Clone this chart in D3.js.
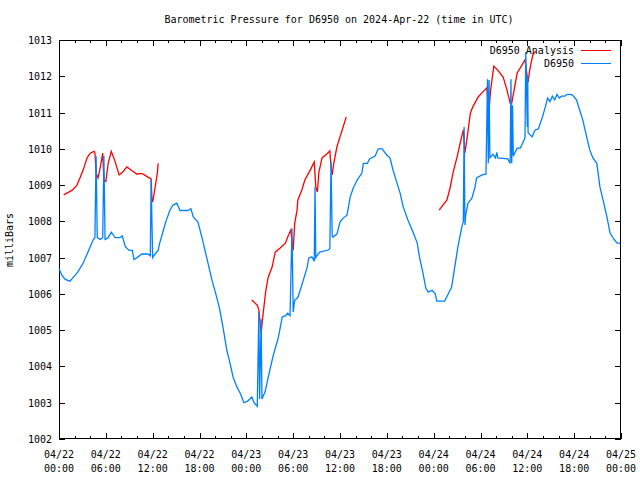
<!DOCTYPE html>
<html><head><meta charset="utf-8">
<script src="https://cdn.jsdelivr.net/npm/d3@7"></script>
<style>
body{margin:0;background:#fff;}
svg{display:block;}
text{font-family:"DejaVu Sans Mono","Liberation Mono",monospace;font-size:10px;fill:#000;}
</style></head>
<body>
<script>
// Hours since 2024-04-22 00:00 UTC
const obsHours = [0.0,0.4,0.8,1.4,1.8,2.4,3.1,3.6,4.0,4.4,4.6,4.75,4.9,5.3,5.6,5.75,5.9,6.3,6.7,7.2,7.8,8.1,8.5,9.0,9.4,9.6,10.0,10.6,11.4,11.7,11.8,12.0,12.3,12.7,12.9,13.3,13.7,14.2,14.6,15.1,15.5,16.5,16.9,17.2,17.8,18.3,19.0,19.6,20.2,20.6,21.0,21.5,21.9,22.3,22.8,23.2,23.7,24.2,24.7,25.0,25.4,25.6,25.7,25.9,26.0,26.4,26.8,27.4,28.1,28.6,29.0,29.3,29.6,29.85,30.0,30.2,30.6,30.9,31.3,31.8,32.0,32.4,32.7,32.8,32.9,33.1,33.4,34.5,34.7,34.85,35.0,35.1,35.6,36.0,36.4,36.9,37.3,37.7,38.2,38.8,39.0,39.5,39.8,40.5,40.9,41.4,42.0,42.4,42.8,43.3,43.7,44.1,44.7,45.4,45.9,46.2,46.6,47.0,47.3,47.8,48.2,48.4,49.4,49.8,50.3,50.7,51.1,51.6,51.8,51.9,52.0,52.1,52.4,52.9,53.3,53.5,54.2,54.7,54.9,55.0,55.1,55.2,55.6,55.9,56.1,56.2,57.5,57.8,57.9,58.0,58.1,58.2,58.7,59.1,59.7,59.8,60.0,60.05,60.1,60.6,61.0,61.4,61.9,62.3,62.6,62.9,63.2,63.5,63.8,64.1,64.4,64.8,65.1,65.5,65.8,66.3,66.7,67.1,67.6,68.0,68.4,68.9,69.3,69.7,70.2,70.6,71.0,71.5,71.9];
const obsValues = [1006.7,1006.5,1006.4,1006.35,1006.45,1006.6,1006.85,1007.1,1007.3,1007.5,1007.55,1009.8,1007.55,1007.5,1007.55,1009.8,1007.5,1007.55,1007.7,1007.55,1007.55,1007.6,1007.3,1007.2,1007.2,1006.95,1007.0,1007.1,1007.1,1007.05,1009.15,1007.0,1007.1,1007.2,1007.4,1007.7,1008.0,1008.3,1008.45,1008.5,1008.3,1008.3,1008.35,1008.12,1007.98,1007.57,1006.93,1006.38,1005.91,1005.56,1005.09,1004.45,1004.1,1003.71,1003.43,1003.27,1003.0,1003.05,1003.16,1003.0,1002.9,1005.5,1003.1,1005.3,1003.1,1003.3,1003.7,1004.26,1004.8,1005.36,1005.4,1005.47,1005.4,1007.8,1005.5,1005.83,1005.9,1006.1,1006.38,1006.74,1006.99,1007.02,1006.9,1008.95,1007.0,1007.07,1007.15,1007.21,1007.25,1009.64,1007.6,1007.57,1007.65,1007.98,1008.09,1008.17,1008.67,1008.92,1009.14,1009.33,1009.6,1009.6,1009.72,1009.8,1010.0,1010.0,1009.83,1009.75,1009.41,1009.06,1008.78,1008.4,1008.04,1007.68,1007.4,1007.0,1006.6,1006.16,1006.05,1006.1,1006.0,1005.8,1005.8,1005.97,1006.19,1006.74,1007.29,1007.84,1008.0,1010.6,1007.9,1008.17,1008.5,1008.64,1008.95,1009.2,1009.28,1009.3,1011.92,1009.6,1011.9,1009.75,1009.85,1009.75,1009.9,1009.75,1009.72,1009.6,1011.92,1009.6,1011.2,1009.8,1010.02,1010.02,1010.3,1012.67,1010.6,1012.0,1010.44,1010.33,1010.52,1010.55,1010.85,1011.15,1011.4,1011.3,1011.45,1011.35,1011.5,1011.4,1011.45,1011.45,1011.5,1011.5,1011.48,1011.35,1011.07,1010.8,1010.33,1009.97,1009.75,1009.6,1008.95,1008.59,1008.12,1007.68,1007.54,1007.4,1007.4];

// Analysis series: three separate segments
const anaHours1 = [0.6,1.7,2.3,2.7,3.1,3.6,4.0,4.5,4.6,4.75,5.0,5.3,5.6,5.75,6.0,6.3,6.7,7.2,7.7,8.2,8.7,9.4,10.0,10.4,10.8,11.4,11.8,11.9,12.0,12.3,12.6,12.7];
const anaValues1 = [1008.73,1008.86,1009.0,1009.2,1009.42,1009.75,1009.88,1009.93,1009.9,1009.33,1009.2,1009.5,1009.88,1009.14,1009.1,1009.6,1009.93,1009.64,1009.28,1009.37,1009.5,1009.39,1009.3,1009.32,1009.3,1009.22,1009.17,1008.64,1008.53,1008.92,1009.33,1009.6];
const anaHours2 = [24.7,25.4,25.6,25.9,26.1,26.5,26.8,27.3,27.7,28.3,29.0,29.3,29.7,29.85,30.0,30.2,30.5,30.6,31.1,31.5,32.2,32.7,32.9,33.1,33.3,33.7,34.3,34.7,34.85,35.0,35.2,35.6,36.0,36.4,36.8];
const anaValues2 = [1005.83,1005.69,1005.56,1004.92,1005.36,1006.1,1006.46,1006.74,1007.15,1007.26,1007.4,1007.57,1007.76,1007.4,1007.2,1007.95,1008.31,1008.59,1008.86,1009.14,1009.42,1009.64,1008.95,1008.81,1009.36,1009.75,1009.86,1009.94,1009.5,1009.28,1009.6,1010.05,1010.33,1010.6,1010.88];
const anaHours3 = [48.7,49.7,50.1,50.5,51.0,51.4,51.8,51.9,52.0,52.3,52.7,53.0,53.7,54.3,54.8,55.0,55.1,55.3,55.7,56.2,56.9,57.4,57.8,58.0,58.3,58.7,59.1,59.7,60.0,60.1,60.3,60.7,61.1];
const anaValues3 = [1008.31,1008.59,1008.92,1009.36,1009.78,1010.16,1010.52,1010.2,1009.88,1010.33,1010.98,1011.15,1011.43,1011.57,1011.68,1011.2,1011.07,1011.62,1012.28,1012.17,1011.98,1011.62,1011.26,1011.26,1011.62,1012.09,1012.23,1012.45,1011.98,1011.84,1012.17,1012.59,1012.7];

const yTicks = [1002,1003,1004,1005,1006,1007,1008,1009,1010,1011,1012,1013];
const xTickHours = [0,6,12,18,24,30,36,42,48,54,60,66,72];
const xTickLabels = [["04/22","00:00"],["04/22","06:00"],["04/22","12:00"],["04/22","18:00"],["04/23","00:00"],["04/23","06:00"],["04/23","12:00"],["04/23","18:00"],["04/24","00:00"],["04/24","06:00"],["04/24","12:00"],["04/24","18:00"],["04/25","00:00"]];
const titleText = "Barometric Pressure for D6950 on 2024-Apr-22 (time in UTC)";
const yLabel = "milliBars";
const seriesNames = ["D6950 Analysis","D6950"];
const seriesColors = ["#ff0000","#0080ff"];

const W=640,H=480;
const L=59,R=621,T=40,B=439;
const svg=d3.select("body").append("svg").attr("width",W).attr("height",H);
const x=d3.scaleLinear().domain([0,72]).range([L,R]);
const y=d3.scaleLinear().domain([1002,1013]).range([B,T]);

// title
svg.append("text").attr("x",339).attr("y",23).attr("text-anchor","middle").text(titleText);
// y label
svg.append("text").attr("transform","translate(13,240) rotate(-90)").attr("text-anchor","middle").text(yLabel);

const g=svg.append("g").attr("shape-rendering","crispEdges");
// ticks
const minorHours=d3.range(0,73,2);
minorHours.forEach(h=>{
  const major = h%6===0;
  const len = major?6:3;
  const xx=Math.round(x(h))+0.5;
  g.append("line").attr("x1",xx).attr("x2",xx).attr("y1",B).attr("y2",B-len).attr("stroke","#000");
  g.append("line").attr("x1",xx).attr("x2",xx).attr("y1",T).attr("y2",T+len).attr("stroke","#000");
});
yTicks.forEach(v=>{
  const yy=Math.round(y(v))+0.5;
  g.append("line").attr("x1",L).attr("x2",L+6).attr("y1",yy).attr("y2",yy).attr("stroke","#000");
  g.append("line").attr("x1",R).attr("x2",R-6).attr("y1",yy).attr("y2",yy).attr("stroke","#000");
  svg.append("text").attr("x",52).attr("y",y(v)+4).attr("text-anchor","end").text(v);
});
xTickHours.forEach((h,i)=>{
  const t=svg.append("text").attr("x",x(h)).attr("text-anchor","middle");
  t.append("tspan").attr("x",x(h)).attr("y",458).text(xTickLabels[i][0]);
  t.append("tspan").attr("x",x(h)).attr("y",472).text(xTickLabels[i][1]);
});

// series
const line=d3.line().x(d=>x(d[0])).y(d=>y(d[1]));
const obs=obsHours.map((h,i)=>[h,obsValues[i]]);
const segs=[[anaHours1,anaValues1],[anaHours2,anaValues2],[anaHours3,anaValues3]];
const lg=svg.append("g");
segs.forEach(([hs,vs])=>{
  lg.append("path").attr("d",line(hs.map((h,i)=>[h,vs[i]]))).attr("fill","none").attr("stroke",seriesColors[0]).attr("stroke-width",1.3);
});
lg.append("path").attr("d",line(obs)).attr("fill","none").attr("stroke",seriesColors[1]).attr("stroke-width",1.3);

// legend
seriesNames.forEach((n,i)=>{
  const yy=50+i*13;
  svg.append("text").attr("x",574).attr("y",yy+4).attr("text-anchor","end").text(n);
  svg.append("line").attr("x1",581).attr("x2",611).attr("y1",yy+0.5).attr("y2",yy+0.5).attr("stroke",seriesColors[i]).attr("stroke-width",1).attr("shape-rendering","crispEdges");
});

// frame
g.append("rect").attr("x",L+0.5).attr("y",T+0.5).attr("width",R-L-1).attr("height",B-T-1).attr("fill","none").attr("stroke","#000");
</script>
</body></html>
